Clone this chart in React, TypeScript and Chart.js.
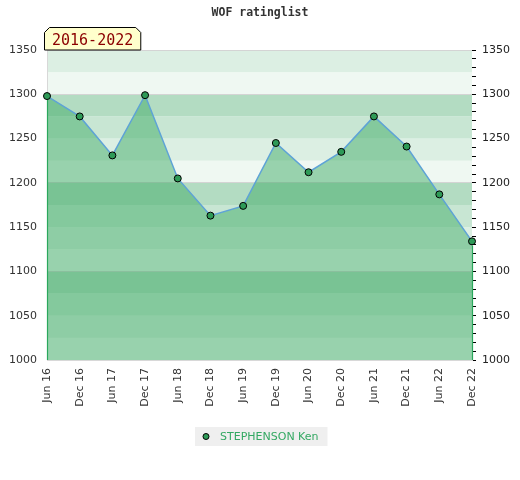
import React, { useEffect, useRef } from "react";
import { Chart, registerables } from "chart.js";
Chart.register(...registerables);

const TITLE = "WOF ratinglist";
const PERIOD = "2016-2022";
const PLAYER = "STEPHENSON Ken";
const LABELS = ["Jun 16", "Dec 16", "Jun 17", "Dec 17", "Jun 18", "Dec 18", "Jun 19", "Dec 19", "Jun 20", "Dec 20", "Jun 21", "Dec 21", "Jun 22", "Dec 22"];
const RATINGS = [1298, 1275, 1231, 1299, 1205, 1163, 1174, 1245, 1212, 1235, 1275, 1241, 1187, 1134];
const Y_MIN = 1000;
const Y_MAX = 1350;
const LABEL_STEP = 50;
const MINOR_STEP = 10;
const BAND_STEP = 25;
const BAND_BLOCK = 100;
const BAND_COLORS = ["#eff8f2", "#dcefe3", "#c8e6d3", "#b3dcc2"];

const bandsPlugin = {
  id: "bands",
  beforeDraw(chart: any) {
    const { ctx, chartArea } = chart;
    const y = chart.scales.y;
    ctx.save();
    for (let v = Y_MIN; v < Y_MAX; v += BAND_STEP) {
      const idx = Math.floor((v % BAND_BLOCK) / BAND_STEP) % BAND_COLORS.length;
      const top = y.getPixelForValue(v + BAND_STEP);
      const bot = y.getPixelForValue(v);
      ctx.fillStyle = BAND_COLORS[idx];
      ctx.fillRect(chartArea.left, top, chartArea.right - chartArea.left, bot - top);
    }
    ctx.restore();
  },
};

const decorPlugin = {
  id: "decor",
  afterDatasetsDraw(chart: any) {
    const { ctx, chartArea } = chart;
    const meta = chart.getDatasetMeta(0);
    const pts = meta.data;
    ctx.save();
    ctx.strokeStyle = "#2aa85c";
    ctx.lineWidth = 1.2;
    [pts[0], pts[pts.length - 1]].forEach((p: any) => {
      ctx.beginPath();
      ctx.moveTo(Math.round(p.x) + 0.5, p.y + 4);
      ctx.lineTo(Math.round(p.x) + 0.5, chartArea.bottom);
      ctx.stroke();
    });
    ctx.restore();
  },
  afterDraw(chart: any) {
    const { ctx, chartArea, width } = chart;
    ctx.save();
    // title
    ctx.font = 'bold 11.5px "DejaVu Sans Mono"';
    ctx.fillStyle = "#333";
    ctx.textAlign = "center";
    ctx.textBaseline = "middle";
    ctx.fillText(TITLE, width / 2, 13);

    // period tab
    ctx.font = '15px "DejaVu Sans Mono"';
    const tw = ctx.measureText(PERIOD).width;
    const l = chartArea.left - 2.5;
    const r = l + tw + 15;
    const b = chartArea.top;
    const t = b - 22.5;
    const c = 5;
    ctx.beginPath();
    ctx.moveTo(l, b);
    ctx.lineTo(l, t + c);
    ctx.lineTo(l + c, t);
    ctx.lineTo(r - c, t);
    ctx.lineTo(r, t + c);
    ctx.lineTo(r, b);
    ctx.closePath();
    ctx.fillStyle = "#ffffcc";
    ctx.fill();
    ctx.strokeStyle = "#000";
    ctx.lineWidth = 1;
    ctx.stroke();
    ctx.fillStyle = "#8b0000";
    ctx.textAlign = "left";
    ctx.textBaseline = "alphabetic";
    ctx.fillText(PERIOD, l + 7.5, b - 5);

    // legend
    ctx.font = '11px "DejaVu Sans"';
    const lw = ctx.measureText(PLAYER).width;
    const boxW = lw + 34;
    const boxX = Math.round(width / 2 - boxW / 2) + 1;
    const boxY = 427;
    const boxH = 19;
    ctx.fillStyle = "#efefef";
    ctx.fillRect(boxX, boxY, boxW, boxH);
    ctx.beginPath();
    ctx.arc(boxX + 11, boxY + boxH / 2, 3, 0, Math.PI * 2);
    ctx.fillStyle = "#2e9a57";
    ctx.fill();
    ctx.strokeStyle = "#000";
    ctx.lineWidth = 1;
    ctx.stroke();
    ctx.fillStyle = "#33a862";
    ctx.textBaseline = "middle";
    ctx.fillText(PLAYER, boxX + 25, boxY + boxH / 2 + 0.5);
    ctx.restore();
  },
};

export default function App() {
  const ref = useRef<HTMLCanvasElement>(null);
  useEffect(() => {
    if (!ref.current) return;
    const chart = new Chart(ref.current, {
      type: "line",
      data: {
        labels: LABELS,
        datasets: [
          {
            label: PLAYER,
            data: RATINGS,
            fill: "start",
            backgroundColor: "rgba(55,167,96,0.47)",
            borderColor: "#5ea3d6",
            borderWidth: 1.5,
            tension: 0,
            pointRadius: 3.5,
            pointBackgroundColor: "#2e9a57",
            pointBorderColor: "#000",
            pointBorderWidth: 1,
          },
        ],
      },
      options: {
        animation: false,
        responsive: false,
        layout: { padding: { top: 50, bottom: 0, left: 0, right: 0 } },
        plugins: {
          legend: { display: false },
          title: { display: false },
          tooltip: { enabled: false },
        },
        scales: {
          x: {
            type: "category",
            offset: false,
            grid: { display: false, drawTicks: false },
            border: { display: true, color: "#d8d8d8" },
            ticks: {
              autoSkip: false,
              maxRotation: 90,
              minRotation: 90,
              padding: 8,
              color: "#333",
              font: { family: '"DejaVu Sans"', size: 11 },
            },
            afterFit(scale: any) {
              scale.height = 120;
            },
          },
          y: {
            position: "left",
            min: Y_MIN,
            max: Y_MAX,
            border: { display: true, color: "#d8d8d8" },
            grid: {
              drawTicks: false,
              color: (c: any) =>
                c.tick && (c.tick.value % BAND_BLOCK === 0 || c.tick.value === Y_MAX) ? "#d4d4d4" : "rgba(0,0,0,0)",
            },
            ticks: {
              stepSize: LABEL_STEP,
              padding: 10,
              color: "#333",
              font: { family: '"DejaVu Sans"', size: 11 },
              callback: (v: any) => String(v),
            },
            afterFit(scale: any) {
              scale.width = 47;
            },
          },
          y2: {
            position: "right",
            min: Y_MIN,
            max: Y_MAX,
            border: { display: false },
            grid: {
              drawOnChartArea: false,
              drawTicks: true,
              tickLength: 4,
              tickColor: "#000",
              tickWidth: 1,
            },
            ticks: {
              stepSize: MINOR_STEP,
              autoSkip: false,
              maxTicksLimit: 1000,
              padding: 6,
              color: "#222",
              font: { family: '"DejaVu Sans"', size: 11 },
              callback: (v: any) => (Number(v) % LABEL_STEP === 0 ? String(v) : ""),
            },
            afterFit(scale: any) {
              scale.width = 48;
            },
          },
        },
      },
      plugins: [bandsPlugin, decorPlugin],
    } as any);
    return () => chart.destroy();
  }, []);
  return (
    <div style={{ position: "absolute", left: 0, top: 0, width: 520, height: 480, background: "#fff" }}>
      <canvas ref={ref} width={520} height={480} />
    </div>
  );
}
